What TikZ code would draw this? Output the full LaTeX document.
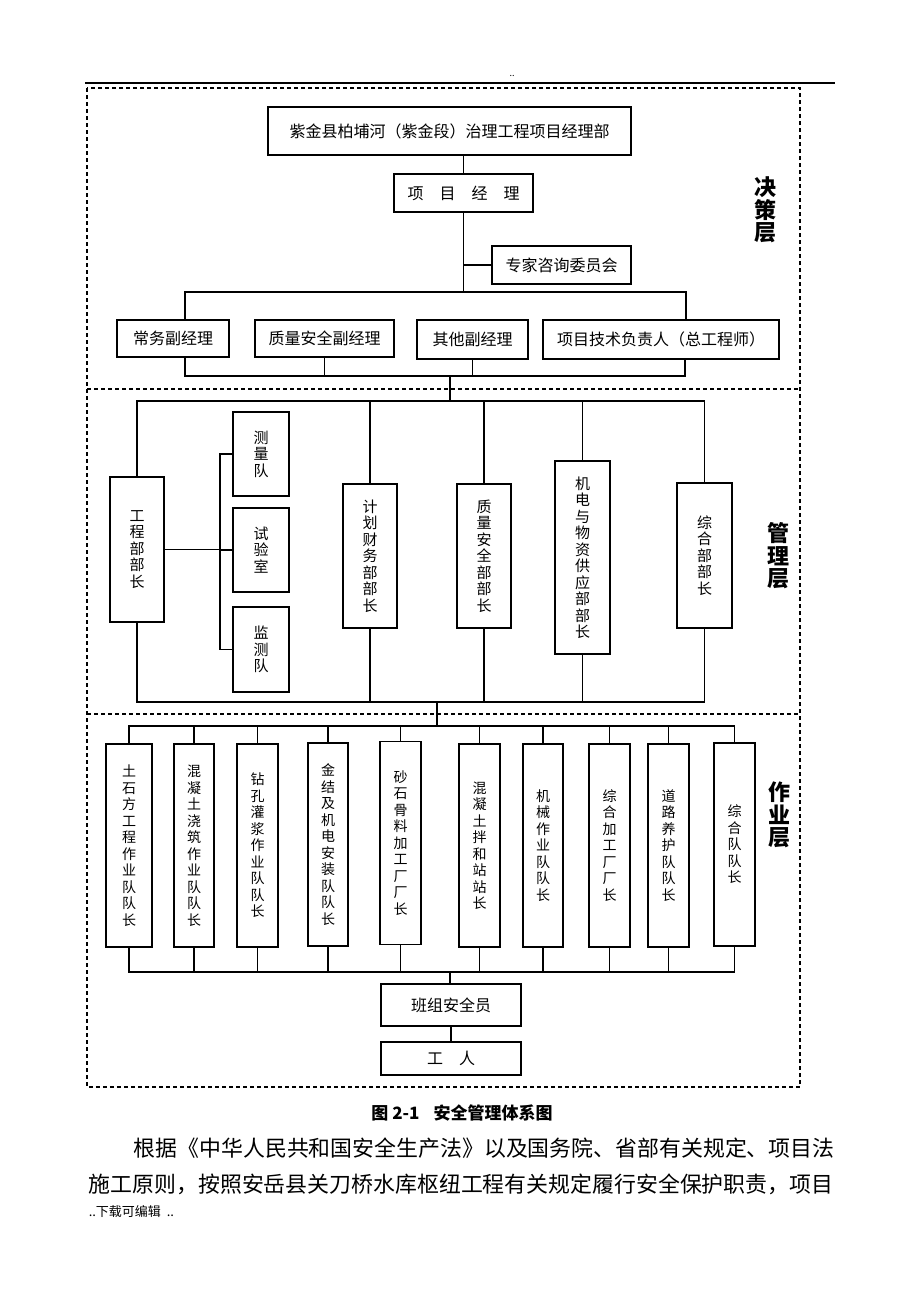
\documentclass[tikz,border=0pt]{standalone}
\usepackage{fontspec}
\setmainfont{Noto Sans CJK SC}
\usepackage{tikz}
\usetikzlibrary{positioning}

\begin{document}
\begin{tikzpicture}[x=1pt,y=-1pt,line width=1.5pt,
  box node/.style={rectangle,draw,line width=1.8pt,inner sep=0pt,font=\fontsize{16}{18}\selectfont},
  mid node/.style={box node,align=center,font=\fontsize{15}{16.5}\selectfont},
  work node/.style={box node,align=center,minimum height=203pt,font=\fontsize{14}{16.5}\selectfont},
  layer node/.style={align=center,inner sep=0pt,font=\fontsize{22}{22.5}\selectfont\bfseries},
  zone line/.style={line width=1.2pt,dash pattern=on 4pt off 3pt}]

  \useasboundingbox (0,0) rectangle (920,1302);
  \draw[line width=1.3pt] (85,83) -- (835,83);
  \node[font=\fontsize{9}{9}\selectfont] (dots) at (512,76) {..};

  % dashed layers
  \draw[zone line] (87,88) rectangle (800,1087);
  \draw[zone line] (87,389) -- (800,389);
  \draw[zone line] (87,714) -- (800,714);

  \node[layer node] (decide) at (765,210) {决\\策\\层};
  \node[layer node] (manage) at (778,556) {管\\理\\层};
  \node[layer node] (work) at (779,815) {作\\业\\层};

  % decision layer
  \node[box node,minimum width=363pt,minimum height=48pt] (dept) at (449.5,131) {紫金县柏埔河（紫金段）治理工程项目经理部};
  \node[box node,minimum width=139pt,minimum height=38pt] (pm) at (463.5,193) {项　目　经　理};
  \node[box node,minimum width=139pt,minimum height=38pt] (expert) at (561.5,265) {专家咨询委员会};

  \node[box node,minimum width=112pt,minimum height=37pt] (vp1) at (173,338.5) {常务副经理};
  \node[box node,minimum width=139pt,minimum height=37pt] (vp2) at (324.5,338.5) {质量安全副经理};
  \node[box node,minimum width=111pt,minimum height=39pt] (vp3) at (472.5,339.5) {其他副经理};
  \node[box node,minimum width=236pt,minimum height=39pt] (vp4) at (661,339.5) {项目技术负责人（总工程师）};

  \coordinate (vt) at (463.5,292);
  \coordinate (ta) at (185,292);
  \coordinate (tb) at (686,292);
  \coordinate (ba) at (185,376);
  \coordinate (bb) at (685,376);

  \draw (pm) -- (pm |- dept.south);
  \draw (pm) -- (vt);
  \draw (pm |- expert.west) -- (expert.west);
  \draw (ta |- vp1.north) -- (ta) -- (tb) -- (tb |- vp4.north);
  \draw (ba |- vp1.south) -- (ba) -- (bb) -- (bb |- vp4.south);
  \draw (vp2) -- (vp2 |- ba);
  \draw (vp3) -- (vp3 |- ba);

  % management layer
  \node[mid node,minimum width=54pt,minimum height=145pt] (eng) at (137,549.5) {工\\程\\部\\部\\长};
  \node[mid node,minimum width=56pt,minimum height=84pt] (survey) at (261,454) {测\\量\\队};
  \node[mid node,minimum width=56pt,minimum height=84pt] (lab) at (261,550) {试\\验\\室};
  \node[mid node,minimum width=56pt,minimum height=85pt] (monitor) at (261,649.5) {监\\测\\队};
  \node[mid node,minimum width=54pt,minimum height=144pt] (plan) at (370,556) {计\\划\\财\\务\\部\\部\\长};
  \node[mid node,minimum width=54pt,minimum height=144pt] (quality) at (484,556) {质\\量\\安\\全\\部\\部\\长};
  \node[mid node,minimum width=55pt,minimum height=193pt] (supply) at (582.5,557.5) {机\\电\\与\\物\\资\\供\\应\\部\\部\\长};
  \node[mid node,minimum width=55pt,minimum height=145pt] (general) at (704.5,555.5) {综\\合\\部\\部\\长};

  \coordinate (dlink) at (450,376);
  \coordinate (mt) at (450,401);
  \coordinate (mb) at (437,702);
  \coordinate (bk) at (220,0);

  \draw (dlink) -- (mt);
  \draw (eng) -- (eng |- mt) -- (general |- mt) -- (general);
  \draw (plan) -- (plan |- mt);
  \draw (quality) -- (quality |- mt);
  \draw (supply) -- (supply |- mt);
  \draw (eng) -- (eng |- mb) -- (general |- mb) -- (general);
  \draw (plan) -- (plan |- mb);
  \draw (quality) -- (quality |- mb);
  \draw (supply) -- (supply |- mb);
  \draw (eng) -- (bk |- eng);
  \draw (survey.west) -- (bk |- survey.west) -- (bk |- monitor.west) -- (monitor.west);
  \draw (lab.west) -- (bk |- lab.west);

  % work layer
  \node[work node,minimum width=46pt] (w1) at (129,845.5) {土\\石\\方\\工\\程\\作\\业\\队\\队\\长};
  \node[work node,minimum width=40pt] (w2) at (194,845.5) {混\\凝\\土\\浇\\筑\\作\\业\\队\\队\\长};
  \node[work node,minimum width=41pt] (w3) at (257.5,845.5) {钻\\孔\\灌\\浆\\作\\业\\队\\队\\长};
  \node[work node,minimum width=40pt] (w4) at (328,844.5) {金\\结\\及\\机\\电\\安\\装\\队\\队\\长};
  \node[work node,minimum width=41pt] (w5) at (400.5,843) {砂\\石\\骨\\料\\加\\工\\厂\\厂\\长};
  \node[work node,minimum width=41pt] (w6) at (479.5,845.5) {混\\凝\\土\\拌\\和\\站\\站\\长};
  \node[work node,minimum width=40pt] (w7) at (543,845.5) {机\\械\\作\\业\\队\\队\\长};
  \node[work node,minimum width=41pt] (w8) at (609.5,845.5) {综\\合\\加\\工\\厂\\厂\\长};
  \node[work node,minimum width=41pt] (w9) at (668.5,845.5) {道\\路\\养\\护\\队\\队\\长};
  \node[work node,minimum width=41pt] (w10) at (734.5,844.5) {综\\合\\队\\队\\长};

  \coordinate (wt) at (437,726);
  \coordinate (wb) at (450,972);

  \draw (mb) -- (wt);
  \draw (w1) -- (w1 |- wt) -- (w10 |- wt) -- (w10);
  \draw (w2) -- (w2 |- wt) (w3) -- (w3 |- wt) (w4) -- (w4 |- wt) (w5) -- (w5 |- wt)
    (w6) -- (w6 |- wt) (w7) -- (w7 |- wt) (w8) -- (w8 |- wt) (w9) -- (w9 |- wt);
  \draw (w1) -- (w1 |- wb) -- (w10 |- wb) -- (w10);
  \draw (w2) -- (w2 |- wb) (w3) -- (w3 |- wb) (w4) -- (w4 |- wb) (w5) -- (w5 |- wb)
    (w6) -- (w6 |- wb) (w7) -- (w7 |- wb) (w8) -- (w8 |- wb) (w9) -- (w9 |- wb);

  \node[box node,minimum width=140pt,minimum height=42pt] (safety) at (451,1005) {班组安全员};
  \node[box node,minimum width=140pt,minimum height=33pt,below=14pt of safety] (worker) {工　人};
  \draw (wb) -- (wb |- safety.north);
  \draw (safety) -- (worker);

  % caption and text below
  \node[font=\fontsize{17}{17}\selectfont\bfseries] (caption) at (462,1113) {图 2-1\hspace{14pt}安全管理体系图};
  \node[anchor=west,inner sep=0pt,font=\fontsize{21.9}{22}\selectfont] (line1) at (133,1148) {根据《中华人民共和国安全生产法》以及国务院、省部有关规定、项目法};
  \node[anchor=west,inner sep=0pt,font=\fontsize{21.9}{22}\selectfont] (line2) at (88,1184) {施工原则，按照安岳县关刀桥水库枢纽工程有关规定履行安全保护职责，项目};
  \node[anchor=west,inner sep=0pt,font=\fontsize{13}{13}\selectfont] (foot) at (88,1212) {..下载可编辑\ \ ..};
\end{tikzpicture}
\end{document}
